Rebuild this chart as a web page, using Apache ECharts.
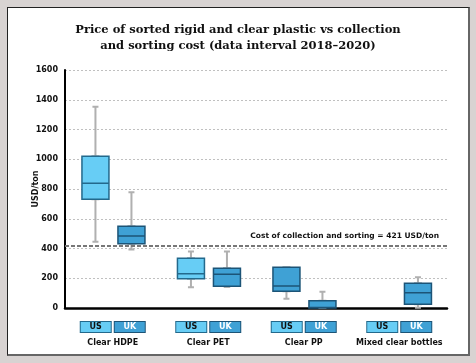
<!DOCTYPE html>
<html>
<head>
<meta charset="utf-8">
<script src="https://cdn.jsdelivr.net/npm/echarts@6/dist/echarts.min.js"></script>
<style>
  html, body { margin: 0; padding: 0; background: #d8d3d2; width: 476px; height: 363px; overflow: hidden; }
  #card { position: absolute; left: 7px; top: 7px; width: 460px; height: 346px; background: #fff;
          border-left: 1.5px solid #222; border-top: 1.5px solid #222; border-right: 2px solid #666; border-bottom: 2px solid #666; }
  #chart { position: absolute; left: 0; top: 0; width: 476px; height: 363px; }
</style>
</head>
<body>
<div id="card"></div>
<div id="chart"></div>
<script>
// ---- data ----
const categories = ['Clear HDPE', 'Clear PET', 'Clear PP', 'Mixed clear bottles'];
// [min, Q1, median, Q3, max] in USD/ton
const usValues = [
  [446, 731, 838, 1020, 1353],
  [139, 197, 231, 334, 379],
  [63, 112, 148, 274, 274],
  ['-', '-', '-', '-', '-']
];
const ukValues = [
  [394, 432, 484, 549, 778],
  [142, 146, 227, 267, 379],
  [0, 0, 3, 49, 110],
  [2, 25, 103, 166, 206]
];
const costOfCollection = 421;
const yTicks = [0, 200, 400, 600, 800, 1000, 1200, 1400, 1600];
const titleLines = ['Price of sorted rigid and clear plastic vs collection', 'and sorting cost (data interval 2018\u20132020)'];

// ---- styles / layout ----
const US_FILL = '#67cdf5', US_BORDER = '#23698c';
const UK_FILL = '#3fa1d5', UK_BORDER = '#1c5477';
const WHISKER = '#b0b0b0';
const FONT = 'DejaVu Sans';
const G = { left: 65, right: 29, top: 70, bottom: 55 };
const PAIR_SHIFT = 18; // half distance between US and UK boxes
const SHIFT_X = 0.7;

function boxOnly(arr) { // box part only: whiskers collapsed onto the box
  return arr.map(d => [d[1], d[1], d[2], d[3], d[3]]);
}
const usBoxData = boxOnly(usValues).map((d, i) => i === 2
  ? { value: d, itemStyle: { color: UK_FILL, borderColor: UK_BORDER } } : d);

const chart = echarts.init(document.getElementById('chart'), null, { renderer: 'canvas' });
const axisLabelRich = {
  us: { width: 30, height: 10, backgroundColor: US_FILL, borderColor: US_BORDER, borderWidth: 1,
        align: 'center', color: '#111', fontWeight: 'bold', fontSize: 8, fontFamily: FONT },
  g: { width: 4 },
  uk: { width: 30, height: 10, backgroundColor: UK_FILL, borderColor: UK_BORDER, borderWidth: 1,
        align: 'center', color: '#fff', fontWeight: 'bold', fontSize: 8, fontFamily: FONT },
  n: { fontWeight: 'bold', fontSize: 8, color: '#111', fontFamily: FONT, lineHeight: 14, verticalAlign: 'bottom' }
};
const hiddenX = gi => ({ type: 'category', data: categories, show: false, gridIndex: gi });
const hiddenY = gi => ({ type: 'value', min: 0, max: 1600, interval: 200, show: false, gridIndex: gi,
                         splitLine: { show: false } });

const option = {
  animation: false,
  title: {
    text: titleLines.join('\n'),
    left: 'center', top: 17,
    textStyle: { fontFamily: 'DejaVu Serif', fontSize: 11.5, fontWeight: 'bold', color: '#111', lineHeight: 16 }
  },
  grid: [
    { left: G.left, right: G.right, top: G.top, bottom: G.bottom },
    { left: G.left - PAIR_SHIFT + SHIFT_X, right: G.right + PAIR_SHIFT - SHIFT_X, top: G.top, bottom: G.bottom },
    { left: G.left + PAIR_SHIFT + SHIFT_X, right: G.right - PAIR_SHIFT - SHIFT_X, top: G.top, bottom: G.bottom }
  ],
  xAxis: [
    {
      type: 'category', data: categories, gridIndex: 0,
      axisLine: { lineStyle: { color: '#000', width: 2.5 } },
      axisTick: { show: false },
      splitLine: { show: false },
      axisLabel: {
        interval: 0, margin: 13,
        formatter: v => '{us|US}{g|}{uk|UK}\n{n|' + v + '}',
        rich: axisLabelRich
      }
    },
    hiddenX(1), hiddenX(1), hiddenX(2), hiddenX(2)
  ],
  yAxis: [
    {
      type: 'value', min: 0, max: 1600, interval: 200, gridIndex: 0,
      name: 'USD/ton', nameLocation: 'middle', nameGap: 25, nameMoveOverlap: false,
      nameTextStyle: { fontFamily: FONT, fontWeight: 'bold', fontSize: 8, color: '#111' },
      axisLine: { show: true, lineStyle: { color: '#000', width: 2 } },
      axisTick: { show: false },
      axisLabel: { fontFamily: FONT, fontWeight: 'bold', fontSize: 8, color: '#111', margin: 7,
                   formatter: v => yTicks.includes(v) ? String(v) : '' },
      splitLine: { lineStyle: { color: '#c0c0c0', type: [2, 2], width: 1 } }
    },
    hiddenY(1), hiddenY(2)
  ],
  series: [
    { name: 'US whisker', type: 'boxplot', xAxisIndex: 1, yAxisIndex: 1, data: usValues, boxWidth: [6, 6], silent: true,
      itemStyle: { color: WHISKER, borderColor: WHISKER, borderWidth: 2 } },
    { name: 'UK whisker', type: 'boxplot', xAxisIndex: 3, yAxisIndex: 2, data: ukValues, boxWidth: [6, 6], silent: true,
      itemStyle: { color: WHISKER, borderColor: WHISKER, borderWidth: 2 } },
    { name: 'US', type: 'boxplot', xAxisIndex: 2, yAxisIndex: 1, data: usBoxData, boxWidth: [27, 27], z: 3, silent: true,
      itemStyle: { color: US_FILL, borderColor: US_BORDER, borderWidth: 1.5 } },
    { name: 'UK', type: 'boxplot', xAxisIndex: 4, yAxisIndex: 2, data: boxOnly(ukValues), boxWidth: [27, 27], z: 3, silent: true,
      itemStyle: { color: UK_FILL, borderColor: UK_BORDER, borderWidth: 1.5 } },
    { name: 'cost', type: 'line', xAxisIndex: 0, yAxisIndex: 0, data: [], silent: true,
      markLine: {
        silent: true, symbol: 'none',
        lineStyle: { color: '#777', type: [4, 2], width: 2 },
        label: { position: 'insideEndTop', formatter: 'Cost of collection and sorting = ' + costOfCollection + ' USD/ton',
                 fontFamily: FONT, fontWeight: 'bold', fontSize: 7.5, color: '#111', distance: [8, 5] },
        data: [{ yAxis: costOfCollection }]
      } }
  ]
};
chart.setOption(option);
</script>
</body>
</html>
